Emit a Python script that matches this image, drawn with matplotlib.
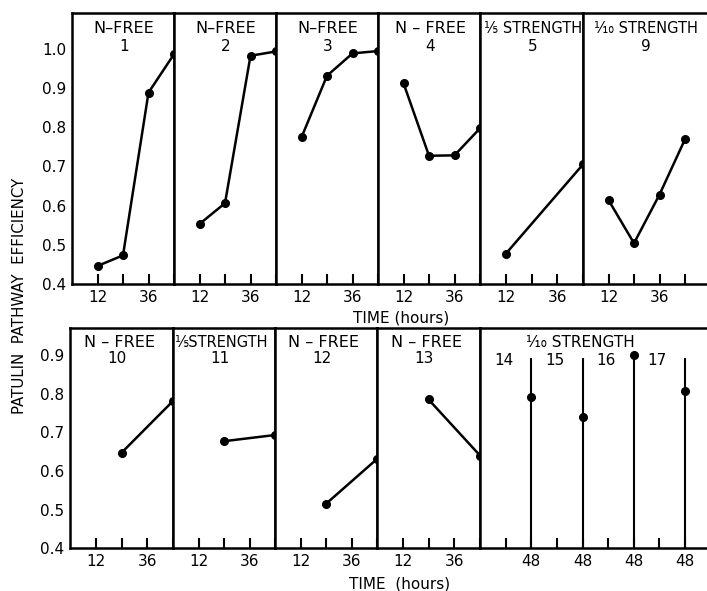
import matplotlib
matplotlib.use("Agg")
import matplotlib.pyplot as plt

# --- data ---
hours = [12, 24, 36, 48]

FIFTH = "\u2155"
TENTH = "\u2152"

top_media = ["N\u2013FREE", "N\u2013FREE", "N\u2013FREE", "N \u2013 FREE", FIFTH + " STRENGTH", TENTH + " STRENGTH"]
top_ids = ["1", "2", "3", "4", "5", "9"]
top_x = [[12, 24, 36, 48], [12, 24, 36, 48], [12, 24, 36, 48], [12, 24, 36, 48], [12, 48], [12, 24, 36, 48]]
top_y = [[0.446, 0.473, 0.888, 0.986],
         [0.553, 0.606, 0.982, 0.993],
         [0.774, 0.931, 0.988, 0.994],
         [0.912, 0.727, 0.728, 0.797],
         [0.477, 0.705],
         [0.614, 0.504, 0.628, 0.769]]

bot_media = ["N \u2013 FREE", FIFTH + "STRENGTH", "N \u2013 FREE", "N \u2013 FREE"]
bot_ids = ["10", "11", "12", "13"]
bot_x = [[24, 48], [24, 48], [24, 48], [24, 48]]
bot_y = [[0.647, 0.781], [0.677, 0.693], [0.515, 0.631], [0.785, 0.640]]

wide_medium = TENTH + " STRENGTH"
wide_ids = ["14", "15", "16", "17"]
wide_y = [0.792, 0.740, 0.900, 0.808]   # all at 48 h

W, H = 707, 591
plt.rcParams['font.family'] = ['DejaVu Sans']
fig = plt.figure(figsize=(W / 100, H / 100), dpi=100)

LW = 1.8
MS = 5.5


def style(ax, ymax, right=True):
    ax.set_ylim(0.4, ymax)
    for s in ['left', 'bottom', 'top', 'right']:
        ax.spines[s].set_linewidth(LW)
    ax.spines['right'].set_visible(right)
    ax.tick_params(axis='x', direction='in', length=7, width=1.5, labelsize=11, pad=4)
    ax.tick_params(axis='y', length=0, labelsize=11, pad=4)


def panel(left_px, right_px, top_px, bot_px):
    return fig.add_axes([left_px / W, 1 - bot_px / H, (right_px - left_px) / W, (bot_px - top_px) / H])


# top row
top_edges = [72, 174, 276, 378, 480, 583, 707]
for i in range(6):
    last = i == 5
    xmax = 48 if not last else 48 * (top_edges[6] - top_edges[5]) / 102
    ax = panel(top_edges[i], top_edges[i + 1], 13, 284)
    ax.set_xlim(0, xmax)
    style(ax, 1.091, right=not last)
    ax.set_xticks(hours)
    ax.set_xticklabels(["12", "", "36", ""])
    if i == 0:
        ax.set_yticks([0.4, 0.5, 0.6, 0.7, 0.8, 0.9, 1.0])
        ax.set_yticklabels(["0.4", "0.5", "0.6", "0.7", "0.8", "0.9", "1.0"])
    else:
        ax.set_yticks([])
    ax.plot(top_x[i], top_y[i], color='black', lw=LW, marker='o', ms=MS, clip_on=False)
    cx = 29.5 if last else 24.5
    ax.text(cx, 1.052, top_media[i], ha='center', va='center', fontsize=11.5 if i < 4 else 10.5)
    ax.text(cx, 1.006, top_ids[i], ha='center', va='center', fontsize=11)

# bottom row
bot_edges = [70, 173, 275, 377, 480]
for i in range(4):
    ax = panel(bot_edges[i], bot_edges[i + 1], 328.3, 548.3)
    ax.set_xlim(0, 48)
    style(ax, 0.969)
    ax.set_xticks(hours)
    ax.set_xticklabels(["12", "", "36", ""])
    if i == 0:
        ax.set_yticks([0.4, 0.5, 0.6, 0.7, 0.8, 0.9])
        ax.set_yticklabels(["0.4", "0.5", "0.6", "0.7", "0.8", "0.9"])
    else:
        ax.set_yticks([])
    ax.plot(bot_x[i], bot_y[i], color='black', lw=LW, marker='o', ms=MS, clip_on=False)
    ax.text(23, 0.932, bot_media[i], ha='center', va='center', fontsize=11.5 if i != 1 else 10.5)
    ax.text(22, 0.89, bot_ids[i], ha='center', va='center', fontsize=11)

# wide 1/10 strength panel, 4 cultures at 48 h
px_per_h = (685 - 480) / 96
wx = [24, 48, 72, 96]
ax = panel(480, 707, 328.3, 548.3)
ax.set_xlim(0, (707 - 480) / px_per_h)
style(ax, 0.969, right=False)
ax.set_yticks([])
ax.set_xticks([12, 24, 36, 48, 60, 72, 84, 96])
ax.set_xticklabels(["", "48", "", "48", "", "48", "", "48"])
ax.vlines(wx, 0.4, 0.893, color='black', lw=1.5)
ax.plot(wx, wide_y, 'o', color='black', ms=MS, clip_on=False)
ax.text(47, 0.932, wide_medium, ha='center', va='center', fontsize=11)
for k in range(4):
    ax.text(wx[k] - 13, 0.887, wide_ids[k], ha='center', va='center', fontsize=11)

# shared labels
fig.text(401 / W, 1 - 318 / H, "TIME (hours)", ha='center', va='center', fontsize=11)
fig.text(400 / W, 1 - 584 / H, "TIME  (hours)", ha='center', va='center', fontsize=11)
fig.text(20 / W, 1 - 296 / H, "PATULIN  PATHWAY  EFFICIENCY", rotation=90,
         ha='center', va='center', fontsize=10.8)

fig.savefig("out.png", dpi=100)
